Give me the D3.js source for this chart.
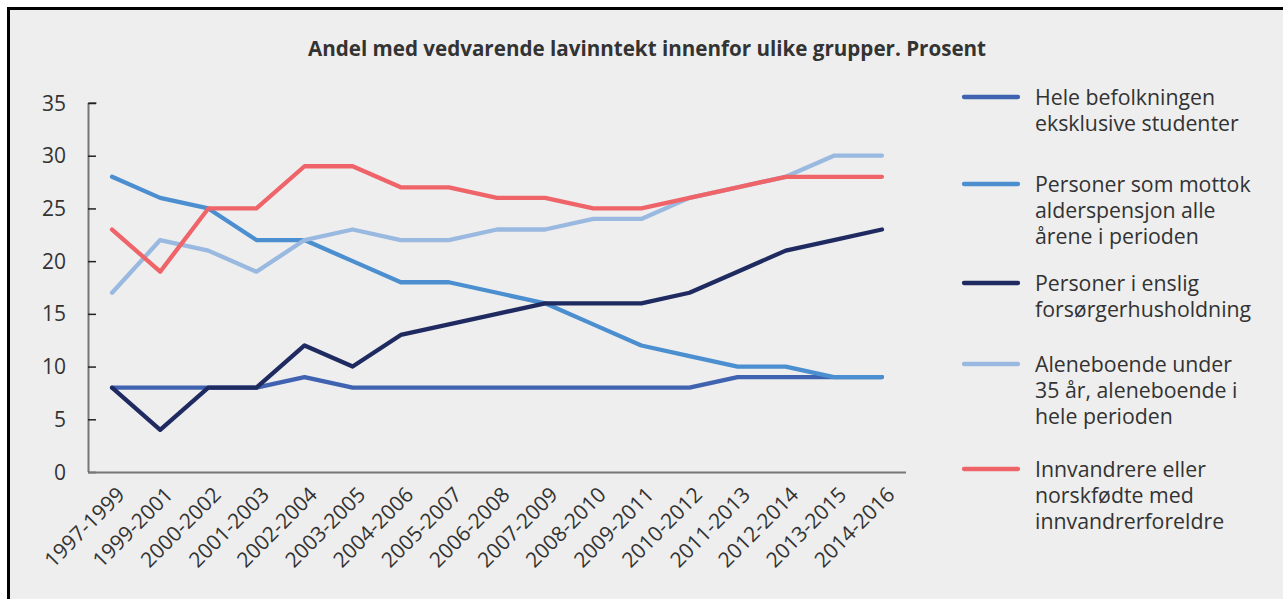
<!DOCTYPE html>
<html>
<head>
<meta charset="utf-8">
<script src="https://cdn.jsdelivr.net/npm/d3@7"></script>
<style>
    body { margin: 0; background: #fff; }
    svg { display: block; font-family: "Open Sans", sans-serif; }
</style>
</head>
<body>
<div id="chart"></div>
<script>
const periods = ["1997-1999", "1999-2001", "2000-2002", "2001-2003", "2002-2004", "2003-2005",
    "2004-2006", "2005-2007", "2006-2008", "2007-2009", "2008-2010", "2009-2011",
    "2010-2012", "2011-2013", "2012-2014", "2013-2015", "2014-2016"];

const heleBefolkningen = [8, 8, 8, 8, 9, 8, 8, 8, 8, 8, 8, 8, 8, 9, 9, 9, 9];
const alderspensjon = [28, 26, 25, 22, 22, 20, 18, 18, 17, 16, 14, 12, 11, 10, 10, 9, 9];
const ensligForsorger = [8, 4, 8, 8, 12, 10, 13, 14, 15, 16, 16, 16, 17, 19, 21, 22, 23];
const aleneboende = [17, 22, 21, 19, 22, 23, 22, 22, 23, 23, 24, 24, 26, 27, 28, 30, 30];
const innvandrere = [23, 19, 25, 25, 29, 29, 27, 27, 26, 26, 25, 25, 26, 27, 28, 28, 28];

const yTicks = [0, 5, 10, 15, 20, 25, 30, 35];

const seriesNames = [
    ["Hele befolkningen", "eksklusive studenter"],
    ["Personer som mottok", "alderspensjon alle", "årene i perioden"],
    ["Personer i enslig", "forsørgerhusholdning"],
    ["Aleneboende under", "35 år, aleneboende i", "hele perioden"],
    ["Innvandrere eller", "norskfødte med", "innvandrerforeldre"]
];
const seriesValues = [heleBefolkningen, alderspensjon, ensligForsorger, aleneboende, innvandrere];
const colors = ["#3f63b0", "#4b8fd0", "#1f2b60", "#9ab9e0", "#ef6469"];

const width = 1283, height = 599;
const margin = { top: 103, right: 377, bottom: 127, left: 88 };

const svg = d3.select("#chart").append("svg")
    .attr("width", width)
    .attr("height", height);

// panel with black frame (top + left visible)
svg.append("rect")
    .attr("x", 8.5).attr("y", 8.5)
    .attr("width", 1400).attr("height", 800)
    .attr("fill", "#eeeeee")
    .attr("stroke", "#000")
    .attr("stroke-width", 3);

svg.append("text")
    .attr("x", 647)
    .attr("y", 56)
    .attr("text-anchor", "middle")
    .attr("font-size", "20.6px")
    .attr("font-weight", "bold")
    .attr("fill", "#333")
    .text("Andel med vedvarende lavinntekt innenfor ulike grupper. Prosent");

const x = d3.scaleBand()
    .domain(periods)
    .range([margin.left, width - margin.right]);

const y = d3.scaleLinear()
    .domain([0, 35])
    .range([height - margin.bottom, margin.top]);

// Y axis
const yAxis = svg.append("g")
    .attr("transform", `translate(${margin.left},0)`)
    .call(d3.axisRight(y).tickValues(yTicks).tickSize(8).tickFormat(""));
yAxis.select(".domain").attr("stroke", "#777").attr("stroke-width", 2).attr("d", `M0.5,${y(35)}H8.5M0.5,${y(35)}V${y(0)}`);
yAxis.selectAll(".tick line").attr("stroke", "#222").attr("stroke-width", 1.5);

svg.append("g")
    .selectAll("text")
    .data(yTicks)
    .join("text")
    .attr("x", 66)
    .attr("y", (d) => y(d))
    .attr("dy", "0.36em")
    .attr("text-anchor", "end")
    .attr("font-size", "21px")
    .attr("fill", "#333")
    .text((d) => d);

// X axis
svg.append("line")
    .attr("x1", margin.left)
    .attr("x2", width - margin.right)
    .attr("y1", y(0) + 0.5)
    .attr("y2", y(0) + 0.5)
    .attr("stroke", "#777")
    .attr("stroke-width", 2);

svg.append("g")
    .selectAll("text")
    .data(periods)
    .join("text")
    .attr("transform", (d) => `translate(${x(d) + x.bandwidth() / 2 + 14},${y(0) + 24}) rotate(-45)`)
    .attr("text-anchor", "end")
    .attr("font-size", "21px")
    .attr("fill", "#333")
    .text((d) => d);

// Lines
const line = d3.line()
    .x((d, i) => x(periods[i]) + x.bandwidth() / 2)
    .y((d) => y(d));

svg.append("g")
    .selectAll("path")
    .data(seriesValues)
    .join("path")
    .attr("d", (d) => line(d))
    .attr("fill", "none")
    .attr("stroke", (d, i) => colors[i])
    .attr("stroke-width", 4.3)
    .attr("stroke-linecap", "round")
    .attr("stroke-linejoin", "round");

// Legend
const legendY = [97, 184, 283, 364, 469];
const legend = svg.append("g")
    .selectAll("g")
    .data(seriesNames)
    .join("g")
    .attr("transform", (d, i) => `translate(964,${legendY[i]})`);

legend.append("line")
    .attr("x1", 0).attr("x2", 54)
    .attr("stroke", (d, i) => colors[i])
    .attr("stroke-width", 4.3)
    .attr("stroke-linecap", "round");

legend.append("text")
    .attr("x", 71)
    .attr("font-size", "21.3px")
    .attr("fill", "#333")
    .selectAll("tspan")
    .data((d) => d)
    .join("tspan")
    .attr("x", 71)
    .attr("y", (d, i) => i * 26.4)
    .attr("dy", "0.36em")
    .text((d) => d);
</script>
</body>
</html>
